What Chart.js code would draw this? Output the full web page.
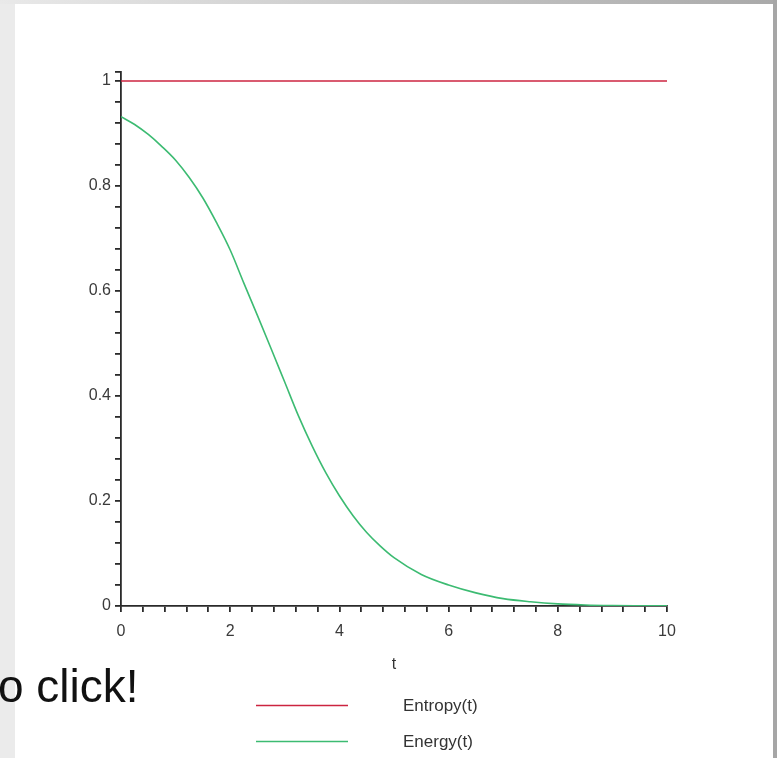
<!DOCTYPE html>
<html>
<head>
<meta charset="utf-8">
<script src="https://cdn.jsdelivr.net/npm/chart.js@4"></script>
<style>
  html, body { margin: 0; padding: 0; background: #fff; }
  #page { position: relative; width: 777px; height: 758px; overflow: hidden; background: #fff; }
  .strip-left { position: absolute; left: 0; top: 0; width: 15px; height: 758px; background: #ebebeb; }
  .strip-top { position: absolute; left: 0; top: 0; width: 777px; height: 4px; background: linear-gradient(to right, #e9e9e9, #a9a9a9); }
  .strip-right { position: absolute; right: 0; top: 0; width: 4px; height: 758px; background: #a6a6a6; }
  .click { position: absolute; left: -2px; top: 663px; font: 46px/46px "Liberation Sans", Arial, sans-serif; color: #111; white-space: nowrap; }
  #wrap { position: absolute; left: 0; top: 0; width: 777px; height: 758px; }
</style>
</head>
<body>
<div id="page">
  <div class="strip-left"></div>
  <div class="strip-top"></div>
  <div class="strip-right"></div>
  <div id="wrap"><canvas id="plot" width="777" height="758"></canvas></div>
  <div class="click">o click!</div>
</div>
<script>
// values
const tValues = [0, 0.25, 0.5, 0.75, 1, 1.25, 1.5, 1.75, 2, 2.25, 2.5, 2.75, 3, 3.25, 3.5, 3.75,
                 4, 4.25, 4.5, 4.75, 5, 5.5, 6, 6.5, 7, 7.5, 8, 8.5, 9, 9.5, 10];
const energyValues = [0.932, 0.917, 0.898, 0.875, 0.849, 0.816, 0.777, 0.730, 0.678, 0.615, 0.553, 0.490,
                      0.426, 0.362, 0.305, 0.254, 0.210, 0.172, 0.140, 0.114, 0.092, 0.060, 0.040, 0.025,
                      0.014, 0.008, 0.004, 0.002, 0.001, 0.0005, 0.0002];
const entropyValues = tValues.map(() => 1);

const xLabels = [0, 2, 4, 6, 8, 10];
const yLabels = [0, 0.2, 0.4, 0.6, 0.8, 1];
const xMinorStep = 0.4;
const yMinorStep = 0.04;
const yMax = 1.017;

function pts(vals) {
  return tValues.map((t, i) => ({ x: t, y: vals[i] }));
}

function minorTicks(lo, hi, step) {
  const out = [];
  const n = Math.round((hi - lo) / step);
  for (let i = 0; i <= n; i++) out.push({ value: +(lo + i * step).toFixed(4) });
  return out;
}

function isLabel(list, v) {
  return list.some(l => Math.abs(l - v) < 1e-6);
}

// legend drawn under the plot, like the original
const legendBelow = {
  id: 'legendBelow',
  afterDraw(chart) {
    const ctx = chart.ctx;
    ctx.save();
    chart.data.datasets.forEach((ds, i) => {
      const y = 705.5 + i * 36;
      ctx.strokeStyle = ds.borderColor;
      ctx.lineWidth = 1.6;
      ctx.beginPath();
      ctx.moveTo(256, y);
      ctx.lineTo(348, y);
      ctx.stroke();
      ctx.fillStyle = '#333';
      ctx.font = '17px "Liberation Sans", Arial, sans-serif';
      ctx.textBaseline = 'middle';
      ctx.fillText(ds.label, 403, y + 1);
    });
    ctx.restore();
  }
};

Chart.defaults.font.family = '"Liberation Sans", Arial, sans-serif';

const axisGrid = { display: true, drawOnChartArea: false, drawTicks: true, tickLength: 6, color: '#2a2a2a', lineWidth: 1.8 };
const axisBorder = { display: true, color: '#2a2a2a', width: 1.8 };

new Chart(document.getElementById('plot'), {
  type: 'line',
  data: {
    datasets: [
      {
        label: 'Entropy(t)',
        data: pts(entropyValues),
        borderColor: '#cc2440',
        borderWidth: 1.6,
        pointRadius: 0
      },
      {
        label: 'Energy(t)',
        data: pts(energyValues),
        borderColor: '#3cbb72',
        borderWidth: 1.6,
        pointRadius: 0,
        cubicInterpolationMode: 'monotone'
      }
    ]
  },
  options: {
    responsive: false,
    animation: false,
    layout: { padding: { left: 21, right: 110, top: 72, bottom: 84 } },
    plugins: { legend: { display: false }, tooltip: { enabled: false } },
    scales: {
      x: {
        type: 'linear',
        min: 0,
        max: 10,
        grid: axisGrid,
        border: axisBorder,
        afterBuildTicks: s => { s.ticks = minorTicks(0, 10, xMinorStep); },
        afterFit: s => { s.height = 68; },
        ticks: {
          autoSkip: false,
          maxRotation: 0,
          padding: 10,
          color: '#3a3a3a',
          font: { size: 16 },
          callback: v => isLabel(xLabels, v) ? String(v) : ''
        },
        title: { display: true, text: 't', color: '#333', font: { size: 16 }, padding: 0 }
      },
      y: {
        min: 0,
        max: yMax,
        grid: axisGrid,
        border: axisBorder,
        afterBuildTicks: s => { s.ticks = minorTicks(0, 1, yMinorStep).concat([{ value: yMax }]); },
        afterFit: s => { s.width = 100; },
        ticks: {
          autoSkip: false,
          padding: 4,
          color: '#3a3a3a',
          font: { size: 16 },
          callback: v => isLabel(yLabels, v) ? String(v) : ''
        }
      }
    }
  },
  plugins: [legendBelow]
});
</script>
</body>
</html>
